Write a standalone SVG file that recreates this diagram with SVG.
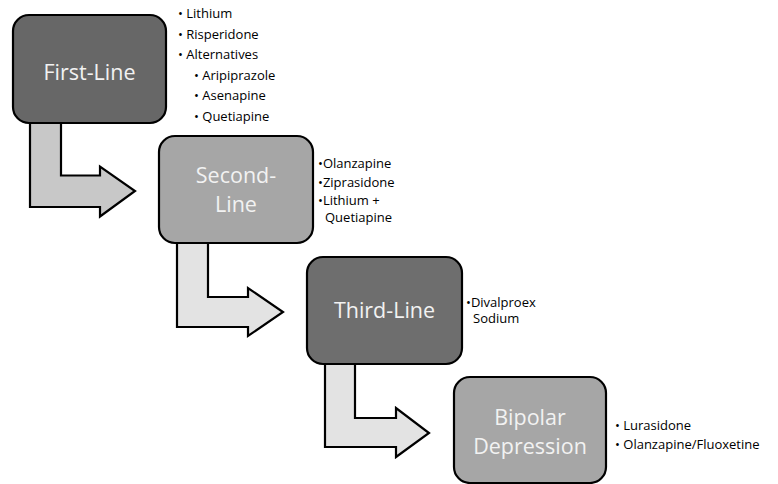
<svg xmlns="http://www.w3.org/2000/svg" width="778" height="484" viewBox="0 0 778 484">
<style>
.box{stroke:#000;stroke-width:2.2}
.dark{fill:#676767}
.dark2{fill:#6e6e6e}
.light{fill:#a6a6a6}
.arrow{stroke:#000;stroke-width:2.2;stroke-linejoin:miter}
.t{font-family:"Open Sans",Lato,sans-serif;font-size:21.5px;fill:#f2f2f2;text-anchor:middle}
.b{font-family:"Open Sans",Lato,sans-serif;font-size:13px;fill:#000}
</style>
<rect width="778" height="484" fill="#fff"/>
<g id="connectors">
<path class="arrow" fill="#c8c8c8" d="M30,118 V207 H100 V216.5 L135,191 L100,166.5 V175.5 H61 V118 Z"/>
<path class="arrow" fill="#e3e3e3" d="M177,238 V327 H248 V336 L283,312 L248,288 V297 H208 V238 Z"/>
<path class="arrow" fill="#e3e3e3" d="M325,360 V447 H396 V457 L429,433 L396,408 V418 H355 V360 Z"/>
</g>
<g id="first-line">
<rect class="box dark" x="13" y="15" width="153" height="108" rx="16"/>
<text class="t" x="89.5" y="80">First-Line</text>
<text class="b" x="178" y="18">• Lithium</text>
<text class="b" x="178" y="39">• Risperidone</text>
<text class="b" x="178" y="59">• Alternatives</text>
<text class="b" x="194" y="79.5">• Aripiprazole</text>
<text class="b" x="194" y="100">• Asenapine</text>
<text class="b" x="194" y="120.5">• Quetiapine</text>
</g>
<g id="second-line">
<rect class="box light" x="159" y="136" width="154" height="107" rx="16"/>
<text class="t" x="236" y="183">Second-</text>
<text class="t" x="236" y="212">Line</text>
<text class="b" x="318" y="167.5">•Olanzapine</text>
<text class="b" x="318" y="186.5">•Ziprasidone</text>
<text class="b" x="318" y="205">•Lithium +<tspan x="325" dy="16.5">Quetiapine</tspan></text>
</g>
<g id="third-line">
<rect class="box dark2" x="307" y="257" width="155" height="107" rx="16"/>
<text class="t" x="384.5" y="318">Third-Line</text>
<text class="b" x="466" y="306.5">•Divalproex<tspan x="473" dy="16.5">Sodium</tspan></text>
</g>
<g id="bipolar-depression">
<rect class="box light" x="454" y="377" width="152" height="106" rx="16"/>
<text class="t" x="530" y="425">Bipolar</text>
<text class="t" x="530" y="454">Depression</text>
<text class="b" x="615" y="430">• Lurasidone</text>
<text class="b" x="615" y="449">• Olanzapine/Fluoxetine</text>
</g>
</svg>
